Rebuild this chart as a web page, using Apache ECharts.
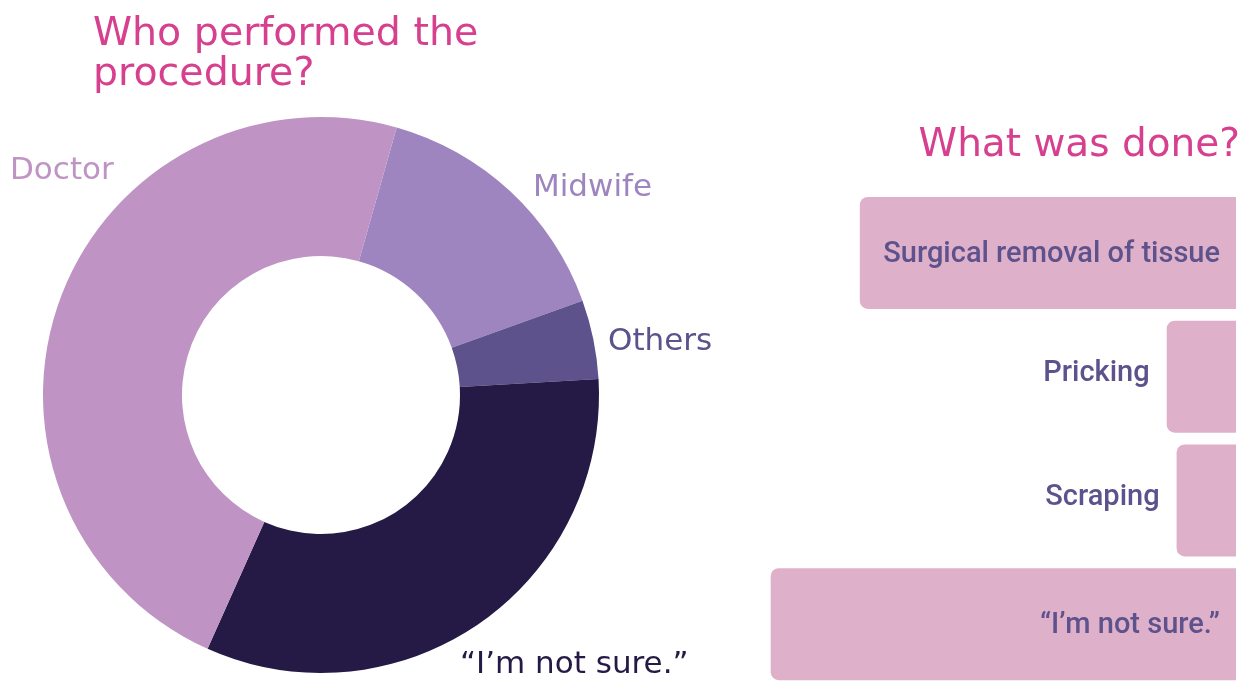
<!DOCTYPE html>
<html>
<head>
<meta charset="utf-8">
<script src="https://cdn.jsdelivr.net/npm/echarts@6/dist/echarts.min.js"></script>
<style>
  html, body { margin: 0; padding: 0; background: #fff; }
  #chart { width: 1254px; height: 697px; }
</style>
</head>
<body>
<div id="chart"></div>
<script>
// who performed the procedure (share, %)
const whoNames = ['Midwife', 'Others', '\u201CI\u2019m not sure.\u201D', 'Doctor'];
const whoValues = [15.1, 4.6, 32.6, 47.7];
const whoColors = ['#9e85c0', '#5d528c', '#241a45', '#bf94c4'];

// what was done (share, %)
const doneNames = ['Surgical removal of tissue', 'Pricking', 'Scraping', '\u201CI\u2019m not sure.\u201D'];
const doneValues = [38, 7, 6, 47];

const pink = '#d6408e';
const headFont = '"DejaVu Sans", sans-serif';
const barFont = 'Roboto, sans-serif';

// where each donut label sits (left edge, vertical middle)
const labelSpots = [
  { x: 533, y: 188 },
  { x: 608, y: 342 },
  { x: 460, y: 665 },
  { x: 10, y: 171 }
];

let chart = echarts.init(document.getElementById('chart'), null, { renderer: 'canvas' });

let option = {
  animation: false,
  title: [{
    text: 'Who performed the\nprocedure?',
    left: 88,
    top: 10,
    textStyle: { color: pink, fontFamily: headFont, fontSize: 39.5, fontWeight: 'normal', lineHeight: 40 }
  }, {
    text: 'What was done?',
    right: 9,
    top: 121,
    textStyle: { color: pink, fontFamily: headFont, fontSize: 39, fontWeight: 'normal' }
  }],
  grid: { left: 741, right: 18, top: 191, bottom: 11 },
  xAxis: {
    type: 'value', inverse: true, min: 0, max: 50,
    show: false
  },
  yAxis: {
    type: 'category', inverse: true, data: doneNames,
    show: false
  },
  series: [{
    type: 'pie',
    center: [321, 395],
    radius: [139, 278],
    startAngle: 74.2,
    clockwise: true,
    silent: true,
    avoidLabelOverlap: false,
    labelLine: { show: false },
    label: {
      show: true,
      position: 'outside',
      fontFamily: headFont,
      fontSize: 31,
      formatter: '{b}'
    },
    labelLayout: function (params) {
      let s = labelSpots[params.dataIndex];
      return { x: s.x, y: s.y, align: 'left', verticalAlign: 'middle', hideOverlap: false };
    },
    data: whoNames.map((n, i) => ({
      name: n,
      value: whoValues[i],
      itemStyle: { color: whoColors[i] },
      label: { color: whoColors[i] }
    }))
  }, {
    type: 'bar',
    barWidth: 112,
    silent: true,
    itemStyle: { color: '#dfb0ca', borderRadius: [8, 0, 0, 8] },
    label: {
      show: true,
      color: '#5d528c',
      fontFamily: barFont,
      fontSize: 29,
      fontWeight: 500,
      formatter: '{b}'
    },
    data: doneValues.map((v, i) => {
      let inside = v > 20;
      return {
        value: v,
        label: inside
          ? { position: 'insideRight', distance: 16, offset: [0, 2] }
          : { position: 'left', distance: 17, offset: [0, -3] }
      };
    })
  }]
};

chart.setOption(option);
</script>
</body>
</html>
